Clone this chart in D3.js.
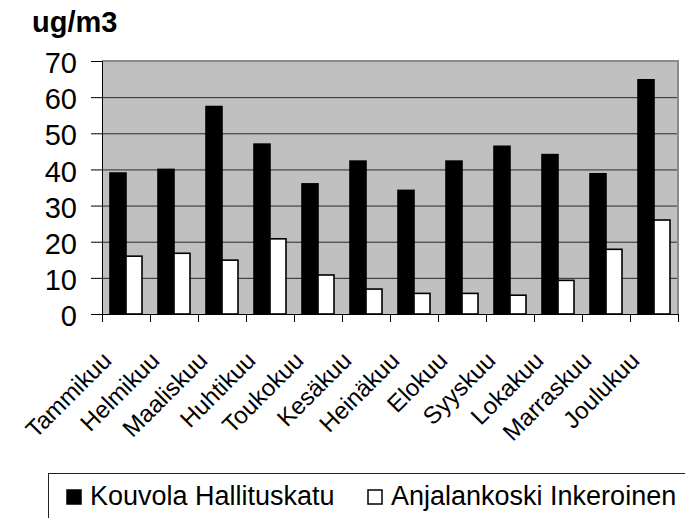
<!DOCTYPE html>
<html>
<head>
<meta charset="utf-8">
<script src="https://cdn.jsdelivr.net/npm/d3@7"></script>
<style>
  body { margin: 0; background: #fff; }
  svg { display: block; font-family: "Liberation Sans", Arial, sans-serif; }
</style>
</head>
<body>
<div id="chart"></div>
<script>
// monthly values
const months = ["Tammikuu", "Helmikuu", "Maaliskuu", "Huhtikuu", "Toukokuu", "Kesäkuu",
                "Heinäkuu", "Elokuu", "Syyskuu", "Lokakuu", "Marraskuu", "Joulukuu"];
const seriesNames = ["Kouvola Hallituskatu", "Anjalankoski Inkeroinen"];
const kouvola = [39, 40, 57.4, 47, 36, 42.3, 34.2, 42.3, 46.4, 44.1, 38.8, 64.8];
const anjala = [16, 16.8, 14.9, 20.8, 10.8, 6.9, 5.7, 5.7, 5.2, 9.3, 17.9, 26];
const yTicks = [0, 10, 20, 30, 40, 50, 60, 70];
const seriesFill = ["#000000", "#ffffff"];

const W = 685, H = 518;
const plot = {left: 102, right: 678, top: 61, bottom: 314};

const svg = d3.select("#chart").append("svg")
    .attr("width", W)
    .attr("height", H);

const x0 = d3.scaleBand()
    .domain(months)
    .range([plot.left, plot.right]);

const x1 = d3.scaleBand()
    .domain(seriesNames)
    .range([x0.bandwidth() / 6, x0.bandwidth() * 5 / 6]);

const y = d3.scaleLinear()
    .domain([0, 70])
    .range([plot.bottom, plot.top]);

// plot background
svg.append("rect")
    .attr("x", plot.left)
    .attr("y", plot.top)
    .attr("width", plot.right - plot.left)
    .attr("height", plot.bottom - plot.top)
    .attr("fill", "#c0c0c0");

// gridlines
svg.append("g")
    .selectAll("line")
    .data(yTicks.filter(d => d > 0 && d < 70))
    .enter()
    .append("line")
    .attr("x1", plot.left)
    .attr("x2", plot.right)
    .attr("y1", d => y(d) + 0.5)
    .attr("y2", d => y(d) + 0.5)
    .attr("stroke", "#2a2a2a")
    .attr("stroke-width", 1);

// top/right frame
svg.append("path")
    .attr("d", `M${plot.left},${plot.top} H${plot.right} V${plot.bottom}`)
    .attr("fill", "none")
    .attr("stroke", "#8a8a8a")
    .attr("stroke-width", 2);

// bars
const rows = months.map((m, i) => ({month: m, values: [kouvola[i], anjala[i]]}));

const groups = svg.append("g")
    .selectAll("g")
    .data(rows)
    .enter()
    .append("g")
    .attr("transform", d => `translate(${x0(d.month)},0)`);

groups.selectAll("rect")
    .data(d => d.values.map((v, k) => ({name: seriesNames[k], value: v, k: k})))
    .enter()
    .append("rect")
    .attr("x", d => x1(d.name))
    .attr("width", x1.bandwidth())
    .attr("y", d => y(d.value))
    .attr("height", d => y(0) - y(d.value))
    .attr("fill", d => seriesFill[d.k])
    .attr("stroke", "#000")
    .attr("stroke-width", 1.6);

// y axis
const yAxis = svg.append("g")
    .attr("transform", `translate(${plot.left},0)`)
    .call(d3.axisLeft(y).tickValues(yTicks).tickSize(11).tickPadding(14));
yAxis.select(".domain").attr("stroke", "#000");
yAxis.selectAll("text")
    .attr("font-size", 29)
    .attr("font-family", "Liberation Sans, Arial, sans-serif")
    .attr("fill", "#000")
    .attr("dy", "0.4em");

// x axis line and tick marks at band boundaries
svg.append("line")
    .attr("x1", plot.left).attr("x2", plot.right)
    .attr("y1", plot.bottom + 0.5).attr("y2", plot.bottom + 0.5)
    .attr("stroke", "#000");

svg.append("g")
    .selectAll("line")
    .data(months.concat(["end"]))
    .enter()
    .append("line")
    .attr("x1", (d, i) => (i < months.length ? x0(d) : plot.right) + 0.5)
    .attr("x2", (d, i) => (i < months.length ? x0(d) : plot.right) + 0.5)
    .attr("y1", plot.bottom)
    .attr("y2", plot.bottom + 8)
    .attr("stroke", "#000");

// rotated month labels
svg.append("g")
    .selectAll("text")
    .data(months)
    .enter()
    .append("text")
    .attr("transform", d => `translate(${x0(d) + x0.bandwidth() / 2 - 13},362) rotate(-45)`)
    .attr("text-anchor", "end")
    .attr("font-size", 24)
    .attr("fill", "#000")
    .text(d => d);

// y unit title
svg.append("text")
    .attr("x", 32)
    .attr("y", 32)
    .attr("font-size", 29)
    .attr("font-weight", "bold")
    .attr("fill", "#000")
    .text("ug/m3");

// legend
svg.append("rect")
    .attr("x", 48.5)
    .attr("y", 473.5)
    .attr("width", 700)
    .attr("height", 100)
    .attr("fill", "#fff")
    .attr("stroke", "#222")
    .attr("stroke-width", 1);

const legendX = [67, 368];
const legend = svg.append("g")
    .selectAll("g")
    .data(seriesNames)
    .enter()
    .append("g")
    .attr("transform", (d, i) => `translate(${legendX[i]},0)`);

legend.append("rect")
    .attr("x", 0)
    .attr("y", 490)
    .attr("width", 14)
    .attr("height", 14)
    .attr("fill", (d, i) => seriesFill[i])
    .attr("stroke", "#000")
    .attr("stroke-width", 1.5);

legend.append("text")
    .attr("x", 23)
    .attr("y", 505)
    .attr("font-size", 27)
    .attr("fill", "#000")
    .text(d => d);
</script>
</body>
</html>
